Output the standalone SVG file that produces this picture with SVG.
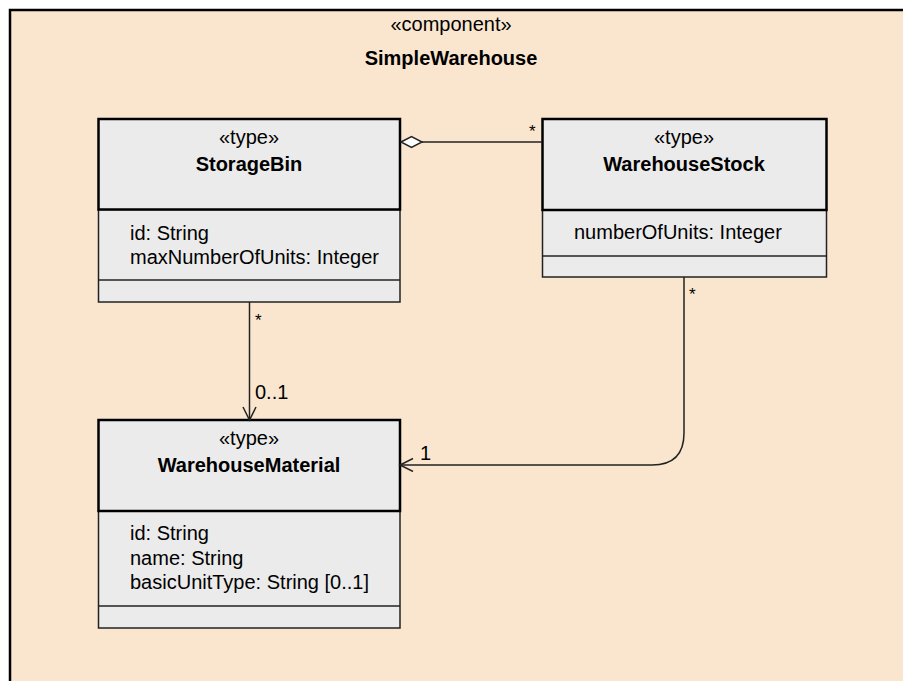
<svg xmlns="http://www.w3.org/2000/svg" width="903" height="681" viewBox="0 0 903 681">
<style>
text{font-family:"Liberation Sans",Arial,sans-serif;font-size:20px;fill:#000}
.b{font-weight:bold}
.m{text-anchor:middle}
.s{font-size:17px}
.hdr{fill:#EBEBEB;stroke:#000;stroke-width:2.5}
.cmp{fill:#EBEBEB;stroke:#222;stroke-width:1.5}
.ln{fill:none;stroke:#222;stroke-width:1.5}
</style>
<defs>
<marker id="open" markerWidth="16" markerHeight="16" refX="14" refY="7" orient="auto" markerUnits="userSpaceOnUse">
<path d="M1,0.5 L14,7 L1,13.5" fill="none" stroke="#222" stroke-width="1.5"/>
</marker>
</defs>
<rect x="0" y="0" width="903" height="681" fill="#fff"/>
<g id="SimpleWarehouse">
<rect x="10" y="10" width="910" height="700" fill="#FAE6CF" stroke="#000" stroke-width="2.5"/>
<text class="m" x="451" y="31">«component»</text>
<text class="m b" x="451" y="65">SimpleWarehouse</text>
</g>
<g id="StorageBin">
<rect class="cmp" x="98.5" y="209.5" width="301.5" height="92.5"/>
<line class="cmp" x1="98.5" y1="280" x2="400" y2="280"/>
<rect class="hdr" x="98.5" y="119" width="301.5" height="90.5"/>
<text class="m" x="249" y="144">«type»</text>
<text class="m b" x="249" y="171">StorageBin</text>
<text x="130" y="240">id: String</text>
<text x="130" y="264">maxNumberOfUnits: Integer</text>
</g>
<g id="WarehouseStock">
<rect class="cmp" x="542.5" y="210" width="284" height="67"/>
<line class="cmp" x1="542.5" y1="256" x2="826.5" y2="256"/>
<rect class="hdr" x="542.5" y="119" width="284" height="91"/>
<text class="m" x="684" y="144">«type»</text>
<text class="m b" x="684" y="171">WarehouseStock</text>
<text x="574" y="239">numberOfUnits: Integer</text>
</g>
<g id="WarehouseMaterial">
<rect class="cmp" x="98.5" y="511" width="301.5" height="117"/>
<line class="cmp" x1="98.5" y1="606" x2="400" y2="606"/>
<rect class="hdr" x="98.5" y="420" width="301.5" height="91"/>
<text class="m" x="249" y="445">«type»</text>
<text class="m b" x="249" y="472">WarehouseMaterial</text>
<text x="130" y="540">id: String</text>
<text x="130" y="565">name: String</text>
<text x="130" y="589">basicUnitType: String [0..1]</text>
</g>
<g id="connectors">
<path class="ln" d="M422,142 L542,142"/>
<path d="M401,142 L411.5,136.5 L422,142 L411.5,147.5 Z" fill="#fff" stroke="#222" stroke-width="1.5"/>
<text class="s" x="529" y="137">*</text>
<path class="ln" d="M249.5,302 L249.5,420" marker-end="url(#open)"/>
<text class="s" x="255" y="326">*</text>
<text x="255" y="399">0..1</text>
<path class="ln" d="M684,277 L684,433 Q684,465 652,465 L400,465" marker-end="url(#open)"/>
<text class="s" x="689" y="300">*</text>
<text x="420" y="460">1</text>
</g>
</svg>
